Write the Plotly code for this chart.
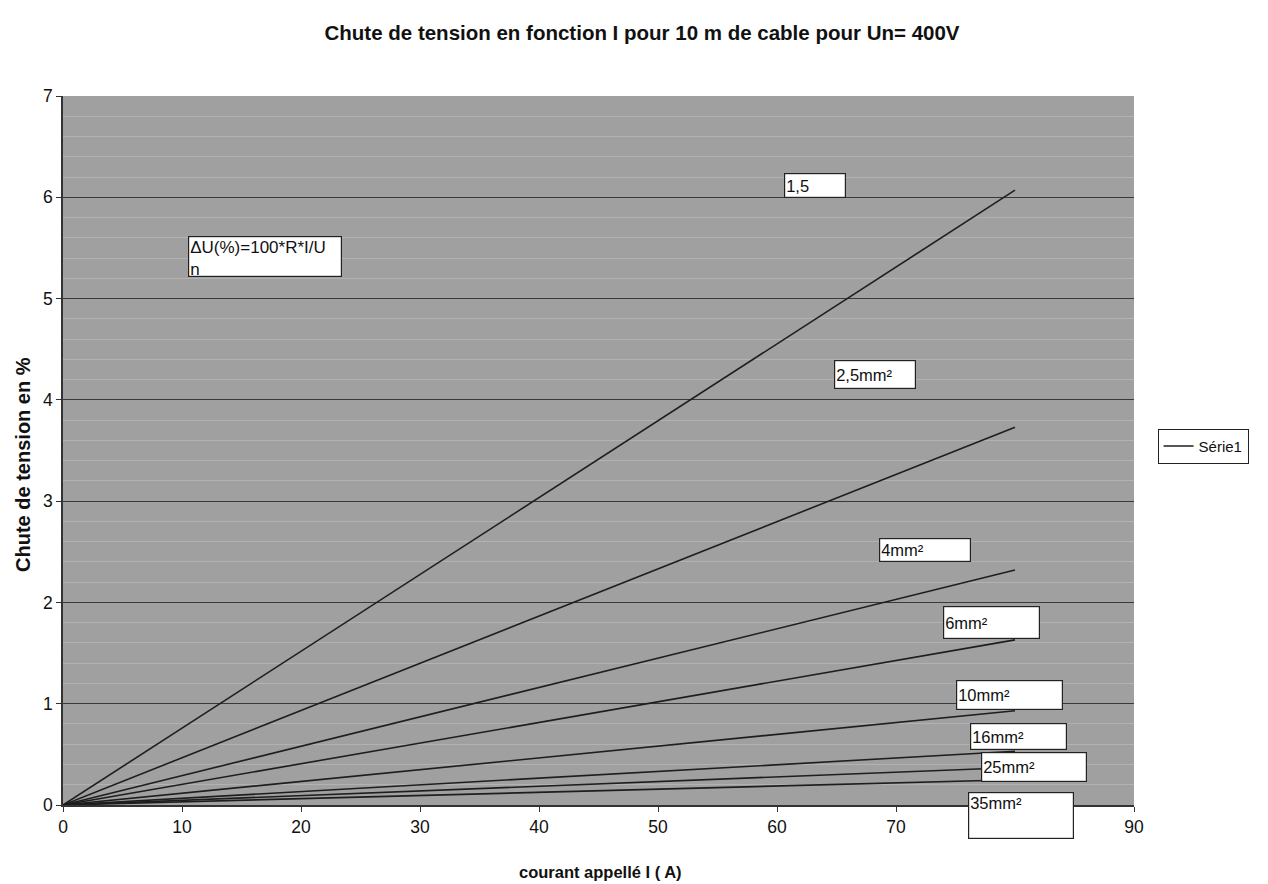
import plotly.graph_objects as go

# Data
sections = ["1,5", "2,5mm²", "4mm²", "6mm²", "10mm²", "16mm²", "25mm²", "35mm²"]
current = [0, 80]
drop_at_80A = [6.07, 3.73, 2.32, 1.63, 0.93, 0.53, 0.37, 0.25]

x_ticks = [0, 10, 20, 30, 40, 50, 60, 70, 80, 90]
y_ticks = [0, 1, 2, 3, 4, 5, 6, 7]

formula_text = "ΔU(%)=100*R*I/U<br>n"
title_text = "Chute de tension en fonction I pour 10 m de cable pour Un= 400V"
x_title = "courant appellé I ( A)"
y_title = "Chute de tension en %"

# label box placement / size (layout only)
label_boxes = [
    dict(x=63.2, y=6.12, yref="y", w=63, h=26, v="middle"),
    dict(x=68.2, y=4.25, yref="y", w=83, h=30, v="middle"),
    dict(x=72.4, y=2.52, yref="y", w=93, h=25, v="middle"),
    dict(x=78.0, y=1.80, yref="y", w=98, h=34, v="middle"),
    dict(x=79.5, y=1.09, yref="y", w=108, h=31, v="middle"),
    dict(x=80.3, y=0.68, yref="y", w=98, h=28, v="middle"),
    dict(x=81.6, y=0.38, yref="y", w=107, h=31, v="middle"),
    dict(x=80.5, y=-0.10 / 7, yref="paper", w=107, h=48, v="top"),
]

FONT = "Liberation Sans, Arial, sans-serif"

fig = go.Figure()
for i, (name, v) in enumerate(zip(sections, drop_at_80A)):
    fig.add_trace(go.Scatter(
        x=current, y=[0, v], mode="lines",
        line=dict(color="#1e1e1e", width=1.6),
        name="Série1", showlegend=(i == 0),
    ))

annotations = []
for name, b in zip(sections, label_boxes):
    annotations.append(dict(
        x=b["x"], y=b["y"], xref="x", yref=b["yref"], text=name, showarrow=False,
        font=dict(family=FONT, size=16.5, color="#111"),
        bgcolor="white", bordercolor="#222", borderwidth=1.2, borderpad=1,
        align="left", valign=b["v"], width=b["w"] - 5, height=b["h"] - 5,
        xanchor="center", yanchor="middle",
    ))
annotations.append(dict(
    x=17.0, y=5.42, xref="x", yref="y",
    text=formula_text, showarrow=False,
    font=dict(family=FONT, size=17, color="#111"),
    bgcolor="white", bordercolor="#222", borderwidth=1.2, borderpad=1,
    align="left", valign="top", width=150, height=37,
    xanchor="center", yanchor="middle",
))
# axis titles
annotations.append(dict(
    x=0.502, y=-0.0945, xref="paper", yref="paper", showarrow=False,
    text="<b>" + x_title + "</b>", font=dict(family=FONT, size=16.5, color="#111"),
    xanchor="center", yanchor="middle",
))
annotations.append(dict(
    x=-0.0374, y=0.481, xref="paper", yref="paper", showarrow=False,
    text="<b>" + y_title + "</b>", textangle=-90,
    font=dict(family=FONT, size=20, color="#111"),
    xanchor="center", yanchor="middle",
))

fig.update_layout(
    width=1268, height=884,
    paper_bgcolor="white", plot_bgcolor="#a0a0a0",
    margin=dict(l=55, r=142, t=88, b=87, autoexpand=False),
    title=dict(
        text="<b>" + title_text + "</b>",
        x=0.5, xref="container", xanchor="center",
        y=0.9717, yref="container", yanchor="middle",
        font=dict(family=FONT, size=20.5, color="#111"),
    ),
    font=dict(family=FONT, size=16, color="#111"),
    xaxis=dict(
        range=[0, 90], tickvals=x_ticks, showgrid=False, zeroline=False,
        showline=True, linecolor="#333", linewidth=1.5, automargin=False,
        ticks="outside", ticklen=5, tickcolor="#333",
        tickfont=dict(size=17.5),
    ),
    yaxis=dict(
        range=[0, 7], tickvals=y_ticks, showgrid=True, gridcolor="#3a3a3a",
        gridwidth=1.2, zeroline=False, automargin=False,
        showline=True, linecolor="#333", linewidth=1.5,
        ticks="outside", ticklen=5, tickcolor="#333",
        tickfont=dict(size=17.5),
        minor=dict(dtick=0.2, showgrid=True, gridcolor="#b2b2b2", gridwidth=1),
    ),
    legend=dict(
        x=1.022, y=0.506, xanchor="left", yanchor="middle",
        bgcolor="white", bordercolor="#222", borderwidth=1,
        font=dict(size=15), itemwidth=30,
    ),
    annotations=annotations,
)

fig.write_html("out.html")
